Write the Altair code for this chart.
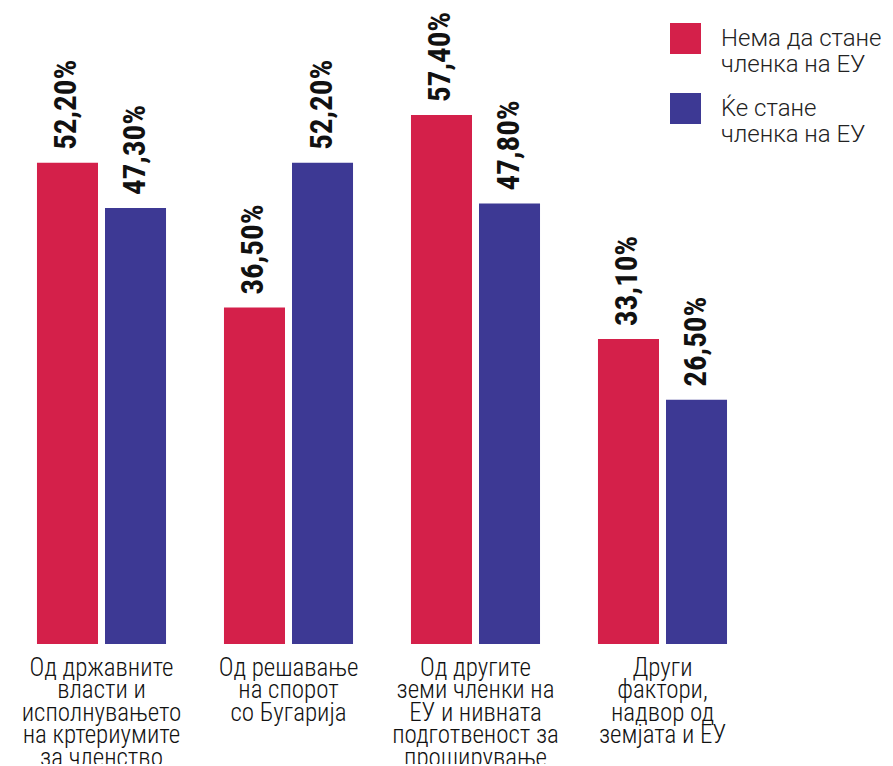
import altair as alt
import pandas as pd

categories = [
    "Од државните\nвласти и\nисполнувањето\nна кртериумите\nза членство",
    "Од решавање\nна спорот\nсо Бугарија",
    "Од другите\nземи членки на\nЕУ и нивната\nподготвеност за\nпроширување",
    "Други\nфактори,\nнадвор од\nземјата и ЕУ",
]
series = ["Нема да стане\nчленка на ЕУ", "Ќе стане\nчленка на ЕУ"]
values_no = [52.2, 36.5, 57.4, 33.1]
values_yes = [47.3, 52.2, 47.8, 26.5]
colors = ["#D4204A", "#3D3994"]

rows = []
for c, a, b in zip(categories, values_no, values_yes):
    rows.append({"cat": c, "series": series[0], "value": a})
    rows.append({"cat": c, "series": series[1], "value": b})
df = pd.DataFrame(rows)
df["label"] = df["value"].map(lambda v: f"{v:.2f}%".replace(".", ","))

FONT = "Roboto Condensed, DejaVu Sans Condensed, sans-serif"
LEGEND_FONT = "Roboto, DejaVu Sans, sans-serif"

x = alt.X("cat:N", sort=categories,
          scale=alt.Scale(paddingInner=0, paddingOuter=0),
          axis=alt.Axis(title=None, labelAngle=0, ticks=False, domain=False,
                        labelExpr="split(datum.label, '\\n')",
                        labelFont=FONT, labelFontSize=25, labelFontWeight=300,
                        labelColor="#111", labelLineHeight=22.6,
                        labelBaseline="top", labelPadding=11, labelLimit=300))
xo = alt.XOffset("series:N", sort=series,
                 scale=alt.Scale(paddingInner=0.103, paddingOuter=0.426))
y = alt.Y("value:Q", scale=alt.Scale(domain=[0, 69.0], nice=False), axis=None)

color = alt.Color("series:N", sort=series,
                  scale=alt.Scale(domain=series, range=colors),
                  legend=alt.Legend(title=None, orient="none", legendX=662, legendY=15,
                                    symbolType="square", symbolSize=961,
                                    symbolStrokeWidth=0, symbolOpacity=1,
                                    labelFont=LEGEND_FONT, labelFontSize=24, labelFontWeight=300,
                                    labelColor="#222", rowPadding=16,
                                    labelExpr="split(datum.label, '\\n')",
                                    labelOffset=20, labelLimit=300))

bars = alt.Chart(df).mark_bar().encode(x=x, xOffset=xo, y=y, color=color)
text = alt.Chart(df).mark_text(angle=270, align="left", baseline="middle", dx=13,
                               font=FONT, fontSize=31, fontWeight="bold",
                               color="#111").encode(x=x, xOffset=xo, y=y, text="label:N")

chart = (bars + text).properties(
    width=748, height=636,
    autosize=alt.AutoSizeParams(type="none"),
    padding={"left": 0, "top": 0, "right": 129, "bottom": 120},
).configure(background="white").configure_view(stroke=None)

chart.save("out.html", embed_options={"renderer": "svg", "actions": False})
